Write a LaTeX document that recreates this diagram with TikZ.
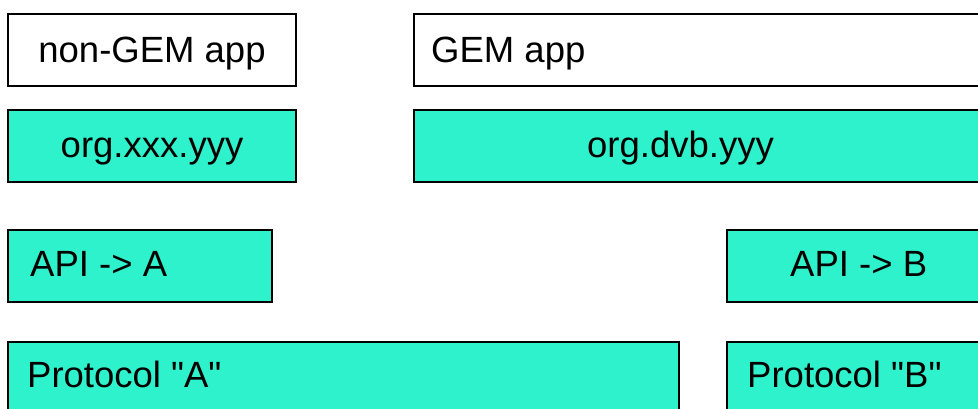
\documentclass[tikz,border=0pt]{standalone}
\usepackage{fontspec}
\setmainfont{Liberation Sans}
\newfontfamily\plainsans{Liberation Sans}
\definecolor{teal1}{RGB}{46,242,204}
\begin{document}
\begin{tikzpicture}[x=1pt,y=-1pt,
  box/.style={draw=black,line width=1.6pt,rectangle,inner sep=0pt,minimum height=72pt},
  tealbox/.style={box,fill=teal1},
  whitebox/.style={box,fill=white},
  lbl/.style={inner sep=0pt,font=\plainsans\fontsize{36.5}{44}\selectfont}]
\useasboundingbox (0,0) rectangle (978,408);
\clip (0,0) rectangle (978,408);
\fill[white] (0,0) rectangle (978,408);
% boxes
\node[whitebox,minimum width=288] (nongem) at (152,50) {};
\node[whitebox,minimum width=586] (gem) at (707,50) {};
\node[tealbox,minimum width=288] (orgx) at (152,146) {};
\node[tealbox,minimum width=586] (orgdvb) at (707,146) {};
\node[tealbox,minimum width=264] (apia) at (140,266) {};
\node[tealbox,minimum width=273] (apib) at (863.5,266) {};
\node[tealbox,minimum width=671,minimum height=78] (prota) at (343.5,381) {};
\node[tealbox,minimum width=273,minimum height=78] (protb) at (863.5,381) {};
% labels
\node[lbl,anchor=base] (tnongem) at (152,62.5) {non-GEM app};
\node[lbl,anchor=base west] (tgem) at (431,62.5) {GEM app};
\node[lbl,anchor=base] (torgx) at (152,157) {org.xxx.yyy};
\node[lbl,anchor=base west] (torgdvb) at (587,157) {org.dvb.yyy};
\node[lbl,anchor=base west] (tapia) at (30,276) {API -> A};
\node[lbl,anchor=base west] (tapib) at (790,276) {API -> B};
\node[lbl,anchor=base west] (tprota) at (27,387) {Protocol "A"};
\node[lbl,anchor=base west] (tprotb) at (747,387) {Protocol "B"};
\end{tikzpicture}
\end{document}
